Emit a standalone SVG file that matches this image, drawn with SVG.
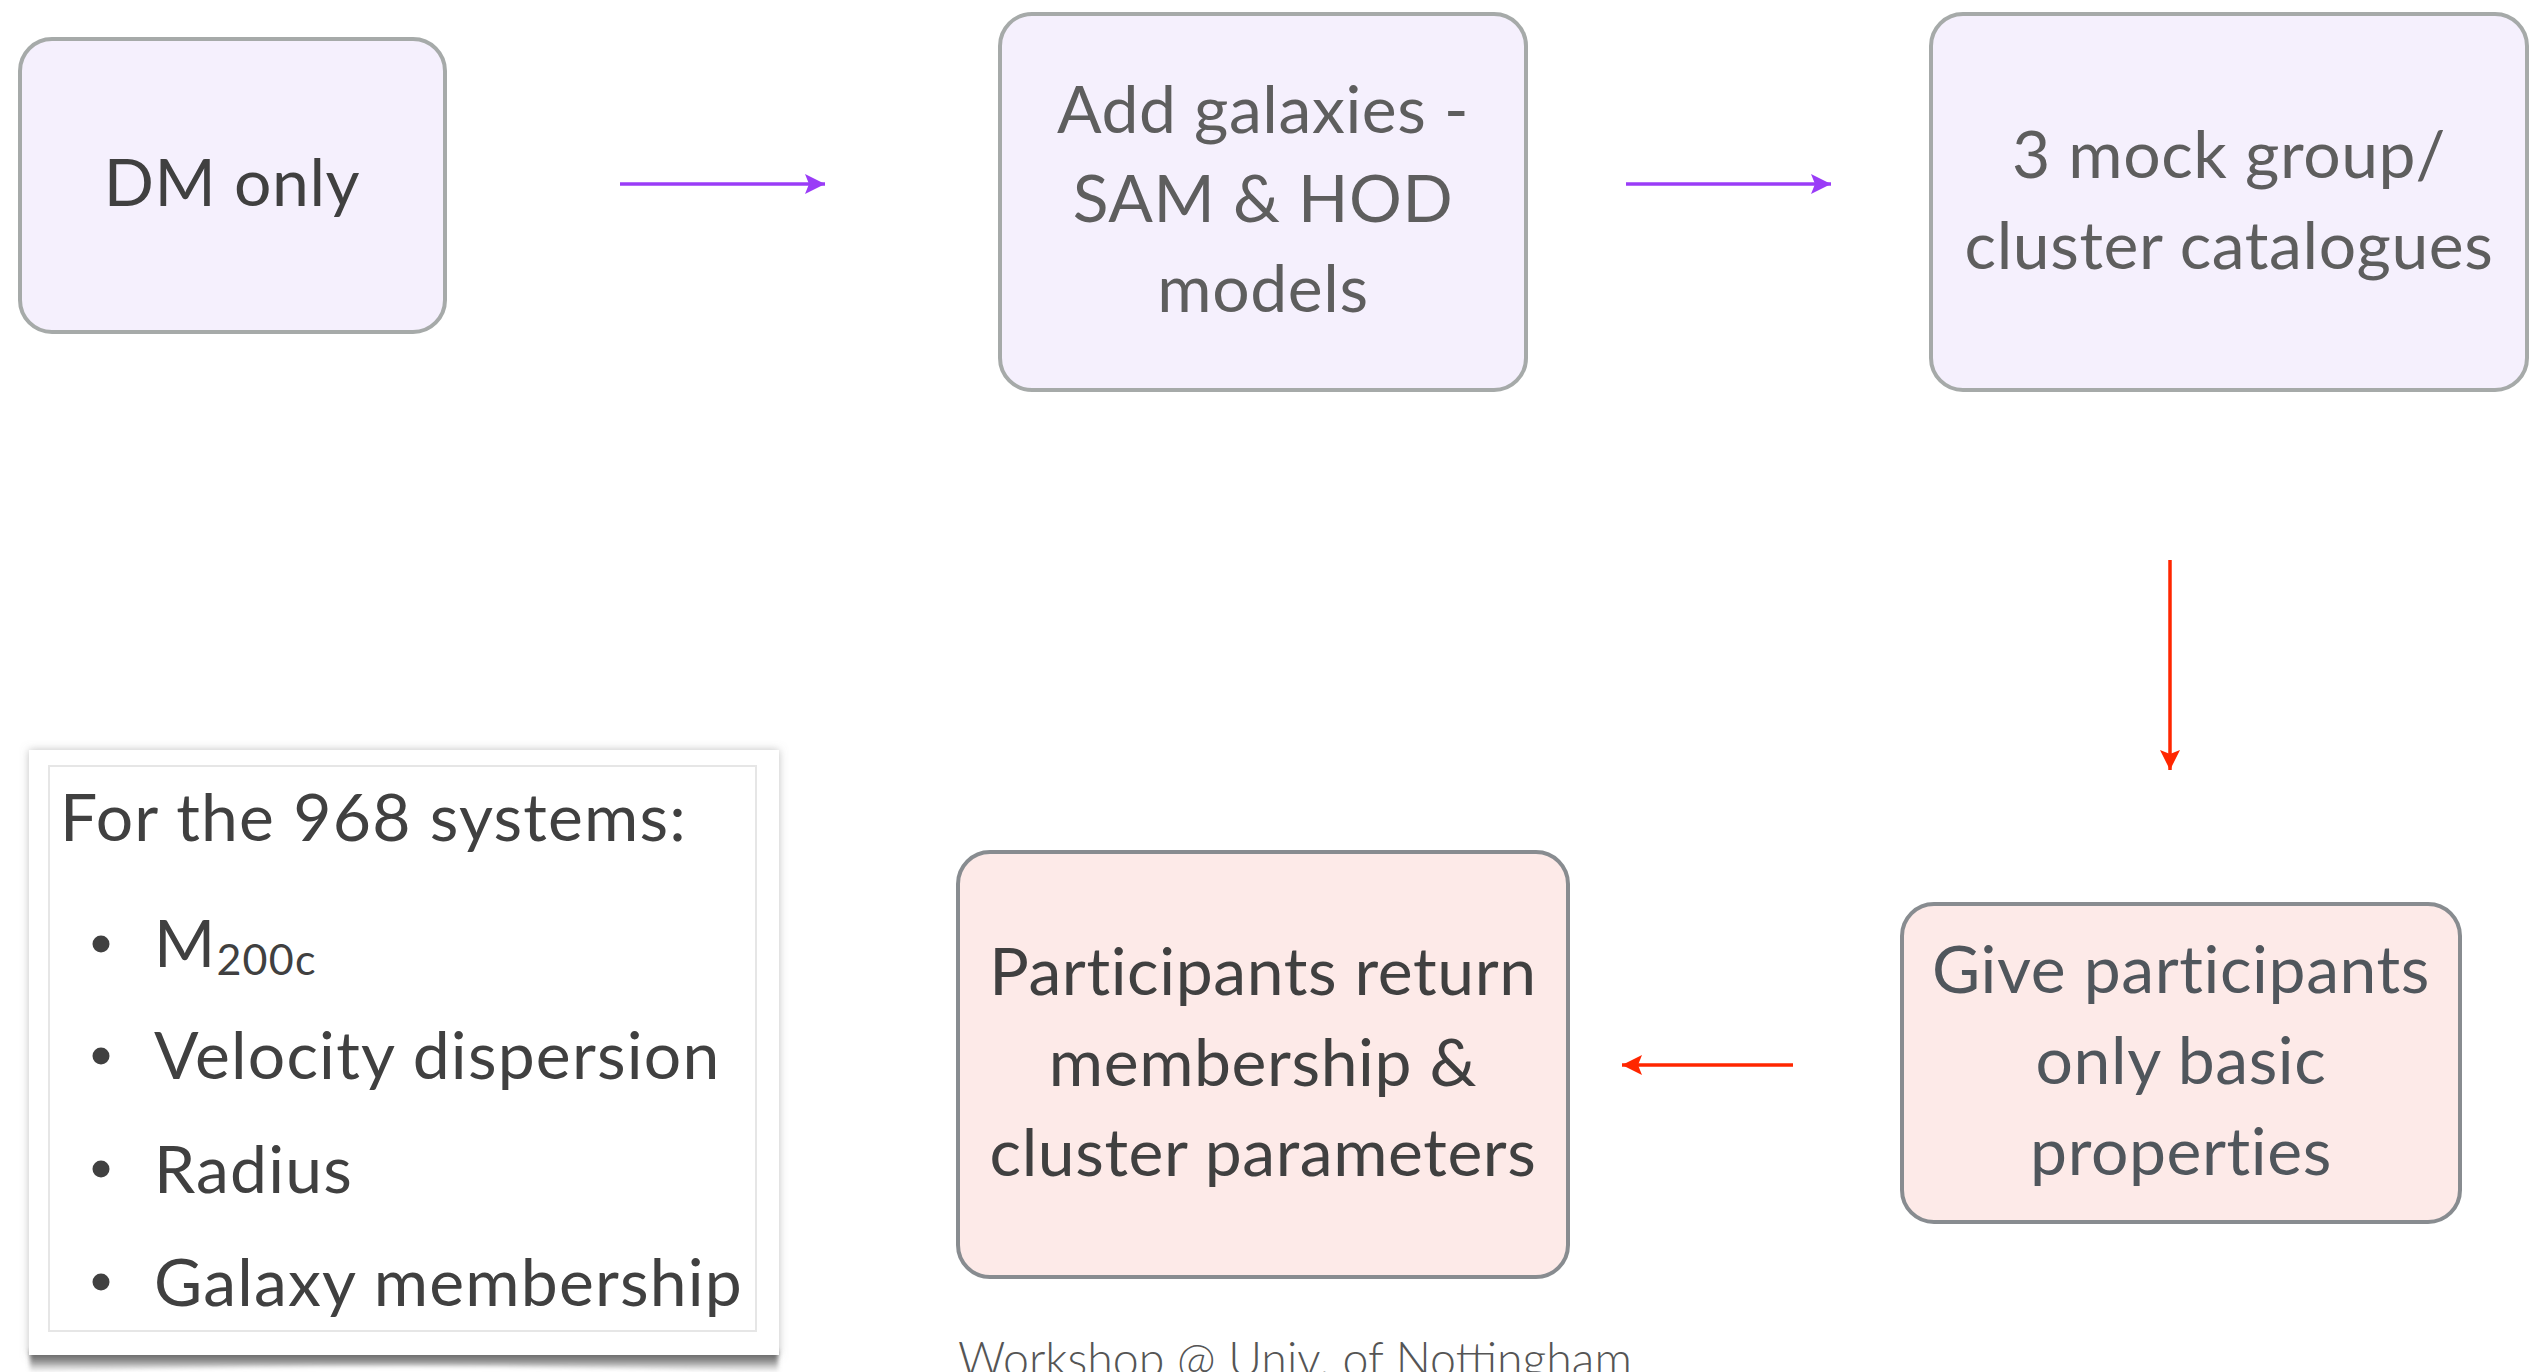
<svg xmlns="http://www.w3.org/2000/svg" width="2545" height="1372" viewBox="0 0 2545 1372">
  <style>
    .t { font-family: Lato, "Noto Sans", "Liberation Sans", sans-serif; text-anchor: middle; font-size: 66px; letter-spacing: 0.6px; }
    .purple rect { fill: #f5f0fd; stroke: #a6aaa9; stroke-width: 4; }
    .pink rect { fill: #fdeae8; stroke: #888c90; stroke-width: 4; }
    .pt { font-family: Lato, "Noto Sans", "Liberation Sans", sans-serif; font-size: 66px; letter-spacing: 1.2px; fill: #404040; }
    .conn-p { stroke: #9a3cf7; stroke-width: 3.5; fill: none; }
    .conn-r { stroke: #ff2600; stroke-width: 3.5; fill: none; }
  </style>
  <defs>
    <marker id="ahP" markerUnits="userSpaceOnUse" markerWidth="24" markerHeight="24" refX="22" refY="11" orient="auto" viewBox="0 0 24 22">
      <path d="M22,11 L2,1 L6,11 L2,21 Z" fill="#9a3cf7"/>
    </marker>
    <marker id="ahR" markerUnits="userSpaceOnUse" markerWidth="24" markerHeight="24" refX="22" refY="11" orient="auto" viewBox="0 0 24 22">
      <path d="M22,11 L2,1 L6,11 L2,21 Z" fill="#ff2600"/>
    </marker>
    <filter id="sh" x="-10%" y="-10%" width="120%" height="120%">
      <feDropShadow dx="0" dy="0" stdDeviation="4" flood-color="#808080" flood-opacity="0.5"/>
    </filter>
    <filter id="blur" x="-10%" y="-100%" width="120%" height="300%">
      <feGaussianBlur stdDeviation="2"/>
    </filter>
    <linearGradient id="curl" x1="0" y1="0" x2="0" y2="1">
      <stop offset="0" stop-color="#444444" stop-opacity="1"/>
      <stop offset="0.5" stop-color="#777777" stop-opacity="0.8"/>
      <stop offset="1" stop-color="#aaaaaa" stop-opacity="0.1"/>
    </linearGradient>
  </defs>

  <g id="node-dm-only" class="purple">
    <rect x="20" y="39" width="425" height="293" rx="32"/>
    <text class="t" x="232" y="206" fill="#404040">DM only</text>
  </g>

  <g id="node-add-galaxies" class="purple">
    <rect x="1000" y="14" width="526" height="376" rx="32"/>
    <text class="t" x="1263" y="133" fill="#5e5e5e" letter-spacing="1.4">Add galaxies -</text>
    <text class="t" x="1263" y="222" fill="#5e5e5e" letter-spacing="1.4">SAM &amp; HOD</text>
    <text class="t" x="1263" y="312" fill="#5e5e5e" letter-spacing="1.4">models</text>
  </g>

  <g id="node-mock-catalogues" class="purple">
    <rect x="1931" y="14" width="596" height="376" rx="32"/>
    <text class="t" x="2229" y="178" fill="#5e5e5e" letter-spacing="1">3 mock group/</text>
    <text class="t" x="2229" y="269" fill="#5e5e5e" letter-spacing="1">cluster catalogues</text>
  </g>

  <g id="node-participants-return" class="pink">
    <rect x="958" y="852" width="610" height="425" rx="32"/>
    <text class="t" x="1263" y="995" fill="#404040" letter-spacing="0">Participants return</text>
    <text class="t" x="1263" y="1086" fill="#404040" letter-spacing="0">membership &amp;</text>
    <text class="t" x="1263" y="1176" fill="#404040" letter-spacing="0">cluster parameters</text>
  </g>

  <g id="node-give-participants" class="pink">
    <rect x="1902" y="904" width="558" height="318" rx="32"/>
    <text class="t" x="2181" y="993" fill="#50565c" letter-spacing="1">Give participants</text>
    <text class="t" x="2181" y="1084" fill="#50565c" letter-spacing="1">only basic</text>
    <text class="t" x="2181" y="1175" fill="#50565c" letter-spacing="1">properties</text>
  </g>

  <g id="panel-systems">
    <path d="M30,1350 L778,1350 L778,1372 Q404,1360 30,1372 Z" fill="url(#curl)" filter="url(#blur)"/>
    <rect x="29" y="750" width="750" height="605" fill="#ffffff" filter="url(#sh)"/>
    <rect x="49" y="766" width="707" height="565" fill="none" stroke="#e6e6e6" stroke-width="2"/>
    <text class="pt" x="60" y="841">For the 968 systems:</text>
    <circle cx="101" cy="944" r="8.5" fill="#404040"/>
    <text class="pt" x="154" y="967">M<tspan font-size="43" dy="8">200c</tspan></text>
    <circle cx="101" cy="1056" r="8.5" fill="#404040"/>
    <text class="pt" x="154" y="1079">Velocity dispersion</text>
    <circle cx="101" cy="1169" r="8.5" fill="#404040"/>
    <text class="pt" x="154" y="1193">Radius</text>
    <circle cx="101" cy="1282" r="8.5" fill="#404040"/>
    <text class="pt" x="154" y="1306">Galaxy membership</text>
  </g>

  <g id="connectors">
    <line class="conn-p" x1="620" y1="184" x2="825" y2="184" marker-end="url(#ahP)"/>
    <line class="conn-p" x1="1626" y1="184" x2="1831" y2="184" marker-end="url(#ahP)"/>
    <line class="conn-r" x1="2170" y1="560" x2="2170" y2="770" marker-end="url(#ahR)"/>
    <line class="conn-r" x1="1793" y1="1065" x2="1622" y2="1065" marker-end="url(#ahR)"/>
  </g>

  <text id="footer" x="958" y="1376" font-family="Lato, 'Noto Sans', 'Liberation Sans', sans-serif" font-weight="300" font-size="46.5" fill="#555555">Workshop @ Univ. of Nottingham</text>
</svg>
